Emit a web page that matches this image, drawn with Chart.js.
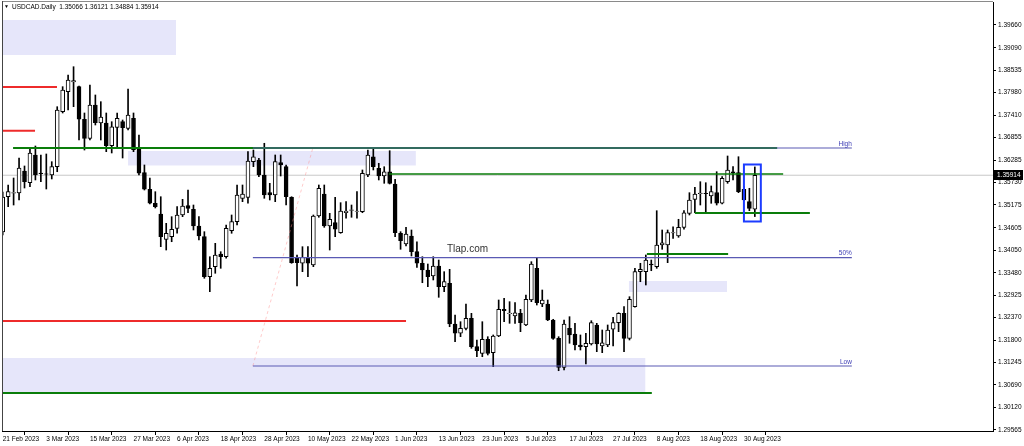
<!DOCTYPE html>
<html>
<head>
<meta charset="utf-8">
<title>USDCAD Daily</title>
<script src="https://cdn.jsdelivr.net/npm/chart.js@4.4.1/dist/chart.umd.min.js"></script>
<style>
  html, body { margin: 0; padding: 0; background: #fff; }
  canvas { display: block; }
</style>
</head>
<body>
<canvas id="usdcadChart" width="1024" height="446"></canvas>
<script>
// daily candles, bar 0 = 21 Feb 2023
const opens = [
  1.34499, 1.35379, 1.35467, 1.35472, 1.36020, 1.35728, 1.36419, 1.35970, 1.35950, 1.35920,
  1.36127, 1.37498, 1.37997, 1.38239, 1.38122, 1.37309, 1.36835, 1.37665, 1.37217, 1.37217,
  1.36651, 1.37109, 1.37249, 1.37084, 1.37334, 1.36561, 1.35978, 1.35564, 1.35215, 1.34948,
  1.34317, 1.34382, 1.34591, 1.34923, 1.35155, 1.35065, 1.34649, 1.34382, 1.33385, 1.33634,
  1.33951, 1.33883, 1.34532, 1.34756, 1.35339, 1.35364, 1.36252, 1.36294, 1.35920, 1.35479,
  1.35422, 1.36232, 1.36127, 1.35364, 1.33868, 1.33719, 1.33844, 1.33677, 1.34898, 1.35447,
  1.34649, 1.34731, 1.34482, 1.34980, 1.35040, 1.35010, 1.35005, 1.35920, 1.36376, 1.36087,
  1.35895, 1.36002, 1.35696, 1.34467, 1.34200, 1.34400, 1.34008, 1.33719, 1.33552, 1.33402,
  1.33652, 1.33136, 1.33220, 1.32206, 1.31974, 1.32098, 1.32348, 1.31640, 1.31475, 1.31824,
  1.31490, 1.31907, 1.32572, 1.32460, 1.32405, 1.32472, 1.32181, 1.32804, 1.33594, 1.32704,
  1.32704, 1.32305, 1.31849, 1.31126, 1.32098, 1.31956, 1.31682, 1.31640, 1.31707, 1.32181,
  1.31657, 1.31682, 1.32074, 1.32238, 1.32472, 1.31849, 1.32637, 1.33510, 1.33510, 1.33701,
  1.33634, 1.34175, 1.34175, 1.34474, 1.34400, 1.34616, 1.34965, 1.35314, 1.35457, 1.35464,
  1.35397, 1.35479, 1.35215, 1.35753, 1.36002, 1.35978, 1.35564, 1.35255, 1.35066
];
const highs = [
  1.35496, 1.35671, 1.35845, 1.36344, 1.36145, 1.36593, 1.36643, 1.36419, 1.36444, 1.36252,
  1.37623, 1.38122, 1.38413, 1.38620, 1.38139, 1.37466, 1.38164, 1.37915, 1.37748, 1.37466,
  1.37249, 1.37466, 1.37291, 1.38064, 1.37466, 1.36917, 1.36170, 1.35845, 1.35504, 1.35379,
  1.34716, 1.34881, 1.35130, 1.35314, 1.35546, 1.35172, 1.34881, 1.34507, 1.33883, 1.34217,
  1.34008, 1.34674, 1.34923, 1.35671, 1.35671, 1.36501, 1.36543, 1.36337, 1.36711, 1.35713,
  1.36419, 1.36419, 1.36170, 1.35379, 1.33926, 1.34133, 1.34133, 1.34923, 1.35671, 1.35671,
  1.34965, 1.35364, 1.35230, 1.35255, 1.35172, 1.35504, 1.36045, 1.36543, 1.36586, 1.36212,
  1.36127, 1.36526, 1.35813, 1.34507, 1.34616, 1.34549, 1.34257, 1.33883, 1.33701, 1.33883,
  1.33801, 1.33510, 1.33569, 1.32430, 1.32263, 1.32704, 1.32472, 1.31807, 1.32263, 1.31889,
  1.31932, 1.32804, 1.32846, 1.32762, 1.32737, 1.32572, 1.32929, 1.33759, 1.33868, 1.33053,
  1.32804, 1.32323, 1.31889, 1.32305, 1.32388, 1.32223, 1.31932, 1.31974, 1.32288, 1.32223,
  1.32056, 1.32181, 1.32373, 1.32487, 1.32637, 1.32886, 1.33594, 1.33719, 1.33926, 1.33801,
  1.35030, 1.34549, 1.34549, 1.34631, 1.34816, 1.35030, 1.35479, 1.35614, 1.35753, 1.35728,
  1.35646, 1.36002, 1.35878, 1.36394, 1.36127, 1.36376, 1.35629, 1.35589, 1.36121
];
const lows = [
  1.34424, 1.35130, 1.35172, 1.35297, 1.35596, 1.35629, 1.35796, 1.35753, 1.35571, 1.35821,
  1.36002, 1.37466, 1.37541, 1.37623, 1.36793, 1.36543, 1.36793, 1.37167, 1.36793, 1.36501,
  1.36469, 1.36626, 1.36344, 1.37042, 1.36501, 1.35920, 1.35546, 1.35197, 1.35098, 1.34133,
  1.34050, 1.34257, 1.34467, 1.34881, 1.34980, 1.34549, 1.34300, 1.33345, 1.33011, 1.33470,
  1.33594, 1.33844, 1.34467, 1.34674, 1.35255, 1.35215, 1.36127, 1.35878, 1.35339, 1.35297,
  1.35255, 1.35895, 1.35172, 1.33719, 1.33153, 1.33510, 1.33385, 1.33634, 1.34866, 1.34616,
  1.34050, 1.34382, 1.34467, 1.34841, 1.34866, 1.34841, 1.34980, 1.35878, 1.36045, 1.35796,
  1.35713, 1.35696, 1.34382, 1.34068, 1.34150, 1.33901, 1.33619, 1.33235, 1.33136, 1.33303,
  1.32871, 1.33011, 1.32138, 1.31764, 1.31889, 1.32056, 1.31600, 1.31390, 1.31390, 1.31433,
  1.31141, 1.31889, 1.32263, 1.32223, 1.32223, 1.32014, 1.32163, 1.32762, 1.32679, 1.32637,
  1.32288, 1.31824, 1.31041, 1.31059, 1.31725, 1.31557, 1.31557, 1.31208, 1.31682, 1.31515,
  1.31490, 1.31640, 1.31657, 1.32014, 1.31515, 1.31807, 1.32622, 1.33260, 1.33178, 1.33534,
  1.33594, 1.34068, 1.33734, 1.34342, 1.34367, 1.34567, 1.34923, 1.34980, 1.35172, 1.34965,
  1.35215, 1.35172, 1.35197, 1.35713, 1.35796, 1.35479, 1.35284, 1.35030, 1.34884
];
const closes = [
  1.35372, 1.35504, 1.35484, 1.36095, 1.35753, 1.36469, 1.35920, 1.35955, 1.35938, 1.36127,
  1.37541, 1.38039, 1.38289, 1.38276, 1.37309, 1.36835, 1.37665, 1.37224, 1.37366, 1.36651,
  1.37124, 1.37334, 1.37099, 1.37416, 1.36543, 1.35963, 1.35564, 1.35215, 1.35130, 1.34382,
  1.34467, 1.34567, 1.34923, 1.35147, 1.35090, 1.34649, 1.34400, 1.33385, 1.33594, 1.33926,
  1.33883, 1.34591, 1.34756, 1.35422, 1.35447, 1.36269, 1.36376, 1.35920, 1.35422, 1.35422,
  1.36252, 1.36170, 1.35379, 1.33734, 1.33734, 1.33868, 1.33719, 1.34898, 1.35589, 1.34649,
  1.34816, 1.34567, 1.35023, 1.35023, 1.35053, 1.35023, 1.35963, 1.36419, 1.36127, 1.35895,
  1.36002, 1.35713, 1.34482, 1.34282, 1.34449, 1.34008, 1.33719, 1.33552, 1.33385, 1.33652,
  1.33136, 1.33260, 1.32206, 1.31974, 1.32098, 1.32348, 1.31640, 1.31540, 1.31824, 1.31475,
  1.31907, 1.32572, 1.32537, 1.32480, 1.32487, 1.32238, 1.32821, 1.33701, 1.32737, 1.32804,
  1.32305, 1.31849, 1.31126, 1.32206, 1.31931, 1.31682, 1.31640, 1.31725, 1.32238, 1.31707,
  1.31739, 1.32056, 1.32238, 1.32472, 1.31849, 1.32821, 1.33510, 1.33569, 1.33801, 1.33677,
  1.34175, 1.34232, 1.34482, 1.34487, 1.34616, 1.34980, 1.35297, 1.35447, 1.35472, 1.35457,
  1.35504, 1.35215, 1.35838, 1.36045, 1.35978, 1.35504, 1.35297, 1.35090, 1.35914
];

const dateTicks = [0, 8, 16, 24, 32, 40, 48, 56, 64, 72, 80, 88, 96, 104, 112, 120, 128, 136];
const dateLabels = ['21 Feb 2023', '3 Mar 2023', '15 Mar 2023', '27 Mar 2023', '6 Apr 2023',
  '18 Apr 2023', '28 Apr 2023', '10 May 2023', '22 May 2023', '1 Jun 2023', '13 Jun 2023',
  '23 Jun 2023', '5 Jul 2023', '17 Jul 2023', '27 Jul 2023', '8 Aug 2023', '18 Aug 2023', '30 Aug 2023'];
const priceTicks = [1.39660, 1.39090, 1.38535, 1.37980, 1.37410, 1.36855, 1.36285, 1.35730,
  1.35175, 1.34605, 1.34050, 1.33480, 1.32925, 1.32370, 1.31800, 1.31245, 1.30690, 1.30120, 1.29565];

const symbol = 'USDCAD.Daily';
const lastPrice = 1.35914;

// drawn objects, in bars and prices: [fromBar, toBar, price(s)]
const zones = [
  [-0.2, 31.8, 1.39785, 1.38912],
  [23.0, 75.8, 1.36519, 1.36157],
  [114.9, 132.9, 1.33278, 1.33003],
  [-0.2, 117.9, 1.31358, 1.30510]
];
const redLevels = [[-0.2, 9.96, 1.38114], [-0.2, 5.93, 1.37025], [-0.2, 74.0, 1.32280]];
const greenLevels = [[1.9, 142.1, 1.36593], [70.9, 143.2, 1.35945], [127.0, 148.1, 1.34973],
  [118.2, 133.1, 1.33951], [-0.2, 119.1, 1.30485]];
const fibNames = ['High', '50%', 'Low'];
const fibPrices = [1.36593, 1.33858, 1.31158];
const fibBars = [45.9, 155.8];
const fibTrend = [[45.9, 1.31158], [56.9, 1.36593]];
const markBox = [136.0, 139.1, 1.36182, 1.34761];
const watermark = [81.5, 1.34068, 'Tlap.com'];

const xMin = -0.13, xMax = 181.7;
const yMin = 1.29538, yMax = 1.40233;
const font = '"Liberation Sans", Arial, sans-serif';

function hline(x0, x1, p, color, width, order, dash) {
  return {
    type: 'line',
    data: [{ x: x0, y: p }, { x: x1, y: p }],
    borderColor: color,
    borderWidth: width,
    borderDash: dash || [],
    pointRadius: 0,
    fill: false,
    order: order
  };
}

const bars = opens.map((o, i) => i);
const datasets = [];

datasets.push({
  type: 'bar',
  data: bars.map(i => ({ x: i, y: [opens[i], closes[i]] })),
  backgroundColor: bars.map(i => closes[i] >= opens[i] ? '#ffffff' : '#000000'),
  borderColor: '#000000',
  borderWidth: 1,
  borderSkipped: false,
  barThickness: 4,
  grouped: false,
  order: 1
});
datasets.push({
  type: 'bar',
  data: bars.map(i => ({ x: i, y: [lows[i], highs[i]] })),
  backgroundColor: '#000000',
  barThickness: 1,
  grouped: false,
  order: 2
});

datasets.push(hline(xMin, xMax, lastPrice, '#c8c8c8', 1, 3));
fibPrices.forEach(p => datasets.push(hline(fibBars[0], fibBars[1], p, '#5a5ab4', 1.2, 0)));
datasets.push({
  type: 'line',
  data: fibTrend.map(t => ({ x: t[0], y: t[1] })),
  borderColor: 'rgba(255,140,140,0.45)',
  borderWidth: 1,
  borderDash: [3, 3],
  pointRadius: 0,
  fill: false,
  order: 0
});
redLevels.forEach(l => datasets.push(hline(l[0], l[1], l[2], '#ee2b2b', 2, 0)));
greenLevels.forEach((l, k) => datasets.push(hline(l[0], l[1], l[2], '#0a7d0a', k === 1 ? 1.3 : 2, 0)));

const mtPlugin = {
  id: 'mt4Objects',
  beforeDatasetsDraw(chart) {
    const { ctx, chartArea: a, scales: { x, y } } = chart;
    ctx.save();
    ctx.beginPath();
    ctx.rect(a.left, a.top, a.width, a.height);
    ctx.clip();
    ctx.fillStyle = '#e6e6fa';
    zones.forEach(z => {
      const x0 = x.getPixelForValue(z[0]), x1 = x.getPixelForValue(z[1]);
      const y0 = y.getPixelForValue(z[2]), y1 = y.getPixelForValue(z[3]);
      ctx.fillRect(x0, y0, x1 - x0, y1 - y0);
    });
    ctx.restore();
  },
  afterDatasetsDraw(chart) {
    const { ctx, scales: { x, y } } = chart;
    ctx.save();
    // box around the last candle
    const bx0 = x.getPixelForValue(markBox[0]), bx1 = x.getPixelForValue(markBox[1]);
    const by0 = y.getPixelForValue(markBox[2]), by1 = y.getPixelForValue(markBox[3]);
    ctx.strokeStyle = '#1c3cff';
    ctx.lineWidth = 2;
    ctx.strokeRect(bx0, by0, bx1 - bx0, by1 - by0);

    // fibo level names
    ctx.font = '6.5px ' + font;
    ctx.fillStyle = '#3c3cb4';
    ctx.textAlign = 'right';
    ctx.textBaseline = 'bottom';
    fibPrices.forEach((p, k) => {
      ctx.fillText(fibNames[k], x.getPixelForValue(fibBars[1]), y.getPixelForValue(p) - 1);
    });

    ctx.font = '10px ' + font;
    ctx.fillStyle = '#333333';
    ctx.textAlign = 'left';
    ctx.textBaseline = 'middle';
    ctx.fillText(watermark[2], x.getPixelForValue(watermark[0]), y.getPixelForValue(watermark[1]));
    ctx.restore();
  },
  afterDraw(chart) {
    const { ctx, chartArea: a, scales: { y } } = chart;
    ctx.save();
    // frame
    ctx.fillStyle = '#8a8a8a';
    ctx.fillRect(a.left, 1, a.right - a.left, 1);
    ctx.fillStyle = '#444444';
    ctx.fillRect(a.left, 1, 1, a.bottom - 1);

    // header
    ctx.fillStyle = '#000';
    ctx.font = '5px ' + font;
    ctx.textBaseline = 'middle';
    ctx.fillText('\u25BC', 4, 7);
    ctx.font = '6.5px ' + font;
    ctx.fillText(symbol + '  ' + [opens, highs, lows, closes].map(s => s[s.length - 1].toFixed(5)).join(' '), 12, 7);

    // current price tag
    const py = Math.round(y.getPixelForValue(lastPrice));
    ctx.fillStyle = '#000';
    ctx.fillRect(a.right + 1, py - 5, 29, 10);
    ctx.fillStyle = '#fff';
    ctx.font = '6.5px ' + font;
    ctx.fillText(lastPrice.toFixed(5), a.right + 4, py);
    ctx.restore();
  }
};

new Chart(document.getElementById('usdcadChart').getContext('2d'), {
  type: 'bar',
  data: { datasets: datasets },
  options: {
    responsive: false,
    animation: false,
    events: [],
    layout: { padding: { left: 2, top: 2, right: 0, bottom: 0 } },
    plugins: { legend: { display: false }, tooltip: { enabled: false } },
    scales: {
      x: {
        type: 'linear',
        min: xMin,
        max: xMax,
        offset: false,
        afterBuildTicks: s => { s.ticks = dateTicks.map(v => ({ value: v })); },
        afterFit: s => { s.height = 15; s.paddingLeft = 0; s.paddingRight = 0; },
        ticks: {
          autoSkip: false,
          maxRotation: 0,
          align: 'start',
          padding: 0,
          color: '#000',
          font: { family: font, size: 6.5 },
          callback: (v, i) => dateLabels[i]
        },
        grid: { drawOnChartArea: false, tickLength: 4, color: '#000' },
        border: { color: '#000' }
      },
      y: {
        position: 'right',
        min: yMin,
        max: yMax,
        afterBuildTicks: s => { s.ticks = priceTicks.map(v => ({ value: v })); },
        afterFit: s => { s.width = 31; s.paddingTop = 0; s.paddingBottom = 0; },
        ticks: {
          padding: 2,
          color: '#000',
          font: { family: font, size: 6.5 },
          callback: v => v.toFixed(5)
        },
        grid: { drawOnChartArea: false, tickLength: 3, color: '#000' },
        border: { color: '#000' }
      }
    }
  },
  plugins: [mtPlugin]
});
</script>
</body>
</html>
